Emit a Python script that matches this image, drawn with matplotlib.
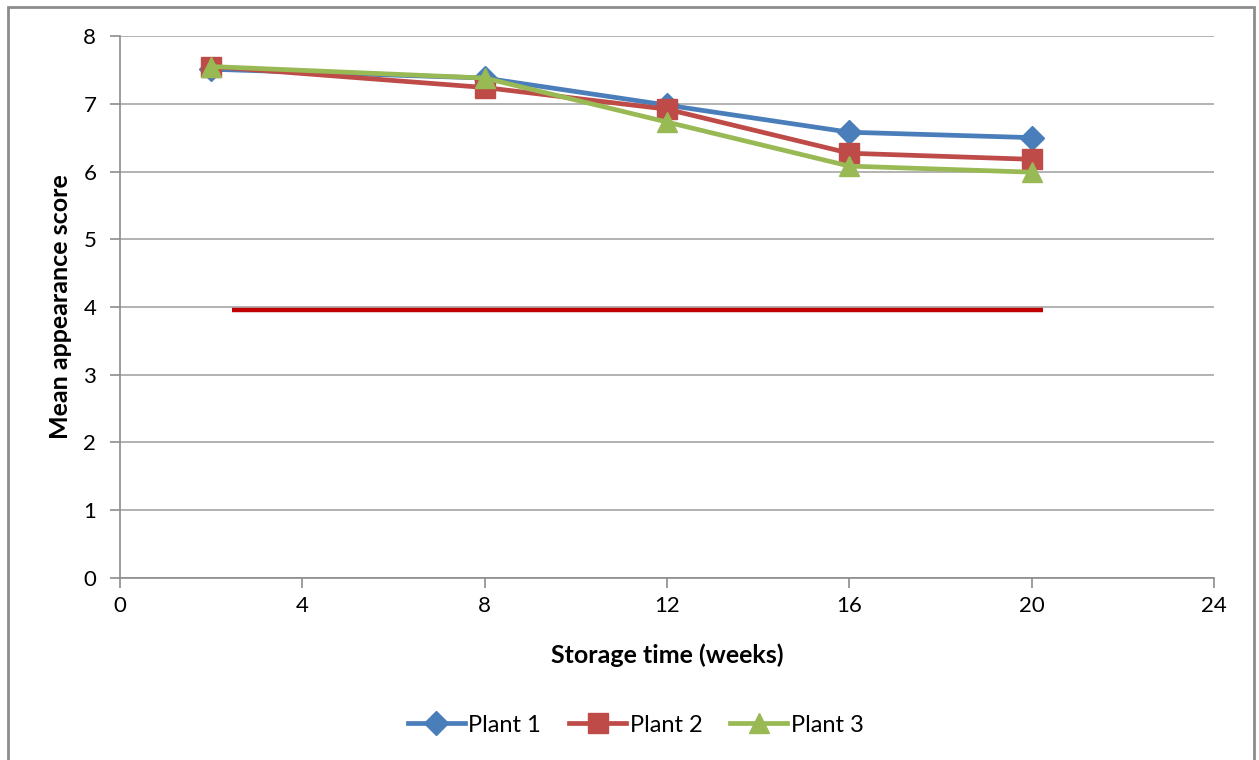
import matplotlib.pyplot as plt
from matplotlib.patches import Rectangle

# storage time in weeks and mean appearance scores per plant
weeks = [2, 8, 12, 16, 20]
plant1 = [7.51, 7.38, 6.98, 6.58, 6.50]
plant2 = [7.55, 7.24, 6.92, 6.27, 6.18]
plant3 = [7.55, 7.38, 6.73, 6.08, 5.99]

# acceptability limit line
limit_x = [2.45, 20.25]
limit_y = [3.96, 3.96]

plt.rcParams['font.family'] = ['Lato', 'DejaVu Sans']

fig = plt.figure(figsize=(12.59, 7.6), dpi=100)
ax = fig.add_axes([0.0953, 0.2395, 0.869, 0.7131])

# outer chart border (bottom edge runs off the image)
fig.patches.append(Rectangle((0.006, -0.01), 0.990, 1.001, transform=fig.transFigure,
                             fill=False, edgecolor='#8c8c8c', linewidth=2))

series = [
    (plant1, 'Plant 1', '#4A7EBB', 'D', 12),
    (plant2, 'Plant 2', '#BE4B48', 's', 14),
    (plant3, 'Plant 3', '#98B954', '^', 15),
]
for vals, name, col, mk, ms in series:
    ax.plot(weeks, vals, color=col, linewidth=3.4, marker=mk, markersize=ms,
            markeredgecolor=col, label=name)

ax.plot(limit_x, limit_y, color='#C00000', linewidth=3.2, solid_capstyle='butt')

ax.set_xlim(0, 24)
ax.set_ylim(0, 8)
ax.set_xticks(range(0, 25, 4))
ax.set_yticks(range(0, 9))
ax.grid(axis='y', color='#a6a6a6', linewidth=1.2)
ax.set_axisbelow(True)

for s in ['top', 'right']:
    ax.spines[s].set_visible(False)
for s in ['left', 'bottom']:
    ax.spines[s].set_color('#8c8c8c')
    ax.spines[s].set_linewidth(1.2)

ax.tick_params(axis='both', colors='#8c8c8c', length=7, width=1.2,
               labelsize=16, labelcolor='black')
ax.tick_params(axis='y', pad=10)
ax.tick_params(axis='x', pad=6)

ax.set_xlabel('Storage time (weeks)', fontsize=18, fontweight='bold', labelpad=20)
ax.set_ylabel('Mean appearance score', fontsize=18, fontweight='bold', labelpad=8)

fig.legend(loc='center', bbox_to_anchor=(0.505, 0.046), ncol=3, frameon=False,
           fontsize=17, handlelength=2.4, columnspacing=1.2, handletextpad=0.15)

fig.savefig('out.png', dpi=100)
